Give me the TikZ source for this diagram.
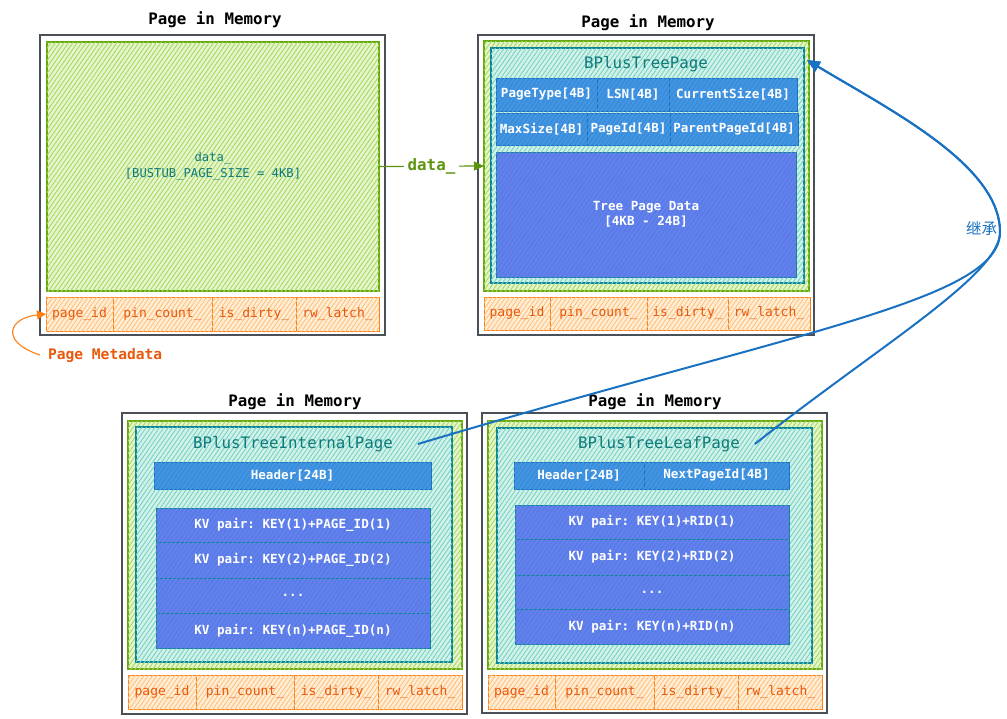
\documentclass[tikz,border=0pt]{standalone}
\usepackage{fontspec}
\setmonofont{DejaVu Sans Mono}
\newfontfamily\cjk{Noto Sans CJK SC}
\usetikzlibrary{positioning,arrows.meta,patterns.meta}

\definecolor{pagegray}{HTML}{495057}
\definecolor{limeline}{HTML}{66A80F}
\definecolor{limebg}{HTML}{E6F5CF}
\definecolor{limehatch}{HTML}{A6DA5A}
\definecolor{tealline}{HTML}{0C8599}
\definecolor{tealbg}{HTML}{D2F1EA}
\definecolor{tealhatch}{HTML}{78D4C2}
\definecolor{titleteal}{HTML}{0F7B7B}
\definecolor{hdrline}{HTML}{1971C2}
\definecolor{hdrbg}{HTML}{3A8EDC}
\definecolor{hdrhatch}{HTML}{4A9BE6}
\definecolor{kvbg}{HTML}{5B7BE8}
\definecolor{kvhatch}{HTML}{6786EE}
\definecolor{orline}{HTML}{FD7E14}
\definecolor{orbg}{HTML}{FFEDD6}
\definecolor{orhatch}{HTML}{FFC27E}
\definecolor{ortext}{HTML}{E8590C}
\definecolor{dataarrow}{HTML}{5C940D}
\definecolor{inhblue}{HTML}{1971C2}

\newcommand{\fcell}{\fontsize{12.6}{15}\selectfont}
\newcommand{\fbig}{\fontsize{15.8}{18}\selectfont}
\newcommand{\kvdots}{...}

% box node from corner (x1,y1) to corner (x2,y2)
\newcommand{\cellnode}[7]{\node[#2, anchor=north west, minimum width={(#5)-(#3)}, minimum height={(#6)-(#4)}] (#1) at (#3,#4) {#7};}
% the four metadata cells under a page
\newcommand{\metarow}[8]{%
	\foreach \xa/\xb/\lbl [count=\i] in {#4/#5/page\_id,#5/#6/pin\_count\_,#6/#7/is\_dirty\_,#7/#8/rw\_latch\_}{
		\cellnode{#1\i}{metacell}{\xa}{#2}{\xb}{#3}{\lbl}
	}
}

\tikzset{
	every node/.style={inner sep=0pt, outer sep=0pt},
	hatch/.style={postaction={pattern={Lines[angle=55, distance=3.6pt, line width=0.9pt]}, pattern color=#1}},
	pagebox/.style={draw=pagegray, line width=1.2pt, fill=white},
	limebox/.style={draw=limeline, line width=1.1pt, fill=limebg, hatch=limehatch},
	tealbox/.style={draw=tealline, line width=1.1pt, fill=tealbg, hatch=tealhatch},
	hdrcell/.style={draw=hdrline, line width=1pt, fill=hdrbg, hatch=hdrhatch, text=white, font=\ttfamily\bfseries\fcell},
	kvcell/.style={draw=tealline, line width=1pt, fill=kvbg, hatch=kvhatch, text=white, font=\ttfamily\bfseries\fcell, align=center},
	metacell/.style={draw=orline, line width=1pt, fill=orbg, hatch=orhatch, text=ortext, font=\ttfamily\fontsize{13}{15}\selectfont},
	pagetitle/.style={font=\ttfamily\bfseries\fbig, inner sep=2pt},
	treetitle/.style={font=\ttfamily\fbig, text=titleteal, inner sep=5pt},
	inherit/.style={draw=inhblue, line width=2pt, -{Triangle[length=13pt,width=11pt]}}
}

\begin{document}
\begin{tikzpicture}[x=1pt, y=-1pt]
	\useasboundingbox (0,0) rectangle (1007,718);

	% top left: plain page
	\node[pagetitle] (t1) at (215,20) {Page in Memory};
	\cellnode{pg1}{pagebox}{40}{35}{385}{335}{}
	\cellnode{data1}{limebox, text=titleteal, font=\ttfamily\fontsize{12.2}{16}\selectfont, align=center}{47}{42}{379}{291}{data\_\\{}[BUSTUB\_PAGE\_SIZE = 4KB]}
	\metarow{ma}{297}{331}{46}{113}{212}{296}{379}

	% top right: BPlusTreePage
	\node[pagetitle] (t2) at (648,23) {Page in Memory};
	\cellnode{pg2}{pagebox}{478}{35}{814}{335}{}
	\cellnode{grn2}{limebox}{484}{41}{809}{291}{}
	\cellnode{tpage}{tealbox}{491}{48}{804}{283}{}
	\node[treetitle] (ttitle) at (646,64) {BPlusTreePage};
	\cellnode{ptype}{hdrcell}{496}{78}{597}{111}{PageType[4B]}
	\cellnode{lsn}{hdrcell}{597}{78}{669}{111}{LSN[4B]}
	\cellnode{csize}{hdrcell}{669}{78}{797}{111}{CurrentSize[4B]}
	\cellnode{msize}{hdrcell}{496}{113}{587}{145}{MaxSize[4B]}
	\cellnode{pid}{hdrcell}{587}{113}{670}{145}{PageId[4B]}
	\cellnode{ppid}{hdrcell}{670}{113}{798}{145}{ParentPageId[4B]}
	\cellnode{tdata}{kvcell}{496}{152}{796}{277}{Tree Page Data\\{}[4KB - 24B]}
	\metarow{mb}{297}{330}{484}{550}{647}{728}{810}

	% bottom left: internal page
	\node[pagetitle] (t3) at (295,402) {Page in Memory};
	\cellnode{pg3}{pagebox}{122}{413}{467}{714}{}
	\cellnode{grn3}{limebox}{128}{421}{462}{669}{}
	\cellnode{ipage}{tealbox}{136}{427}{452}{662}{}
	\node[treetitle] (ititle) at (293,444) {BPlusTreeInternalPage};
	\cellnode{ihdr}{hdrcell}{154}{462}{431}{489}{Header[24B]}
	\foreach \ya/\yb/\kv [count=\i] in {508/542/KV pair: KEY(1)+PAGE\_ID(1), 542/578/KV pair: KEY(2)+PAGE\_ID(2), 578/613/\kvdots, 613/648/KV pair: KEY(n)+PAGE\_ID(n)}{
		\cellnode{ikv\i}{kvcell}{156}{\ya}{430}{\yb}{\kv}
	}
	\metarow{mc}{675}{709}{128}{196}{294}{378}{462}

	% bottom right: leaf page
	\node[pagetitle] (t4) at (655,402) {Page in Memory};
	\cellnode{pg4}{pagebox}{482}{413}{827}{713}{}
	\cellnode{grn4}{limebox}{488}{421}{822}{669}{}
	\cellnode{lpage}{tealbox}{497}{428}{812}{663}{}
	\node[treetitle] (ltitle) at (659,444) {BPlusTreeLeafPage};
	\cellnode{lhdr}{hdrcell}{514}{462}{644}{489}{Header[24B]}
	\cellnode{lnext}{hdrcell}{644}{462}{789}{489}{NextPageId[4B]}
	\foreach \ya/\yb/\kv [count=\i] in {505/539/KV pair: KEY(1)+RID(1), 539/575/KV pair: KEY(2)+RID(2), 575/609/\kvdots, 609/644/KV pair: KEY(n)+RID(n)}{
		\cellnode{lkv\i}{kvcell}{515}{\ya}{789}{\yb}{\kv}
	}
	\metarow{md}{675}{709}{488}{555}{654}{738}{822}

	% connectors
	\draw[draw=dataarrow, line width=1.2pt, -{Triangle[length=10pt,width=9pt]}] (data1.east) -- node[fill=white, text=dataarrow, font=\ttfamily\bfseries\fbig, inner sep=4pt] (dlbl) {data\_} (grn2.west);

	\node[anchor=west, text=ortext, font=\ttfamily\bfseries\fontsize{14.6}{17}\selectfont, inner sep=2pt] (meta) at (46,355) {Page Metadata};
	\draw[draw=orline, line width=1.1pt, -{Triangle[length=9pt,width=9pt]}] ([xshift=-6pt]meta.west) .. controls (0,342) and (8,318) .. (ma1.west);

	\coordinate (bend) at (1000,232);
	\node[anchor=east, text=inhblue, font=\cjk\fontsize{15.5}{18}\selectfont, inner sep=1pt] (inh) at (998,229) {继承};
	\draw[inherit] ([xshift=20pt]ititle.east) .. controls (800,330) and (1000,300) .. (bend) .. controls (1000,165) and (890,110) .. ([xshift=3pt,yshift=-12pt]tpage.north east);
	\draw[inherit] ([xshift=10pt]ltitle.east) .. controls (880,345) and (1000,275) .. (bend) .. controls (1000,165) and (890,110) .. ([xshift=3pt,yshift=-12pt]tpage.north east);
\end{tikzpicture}
\end{document}
